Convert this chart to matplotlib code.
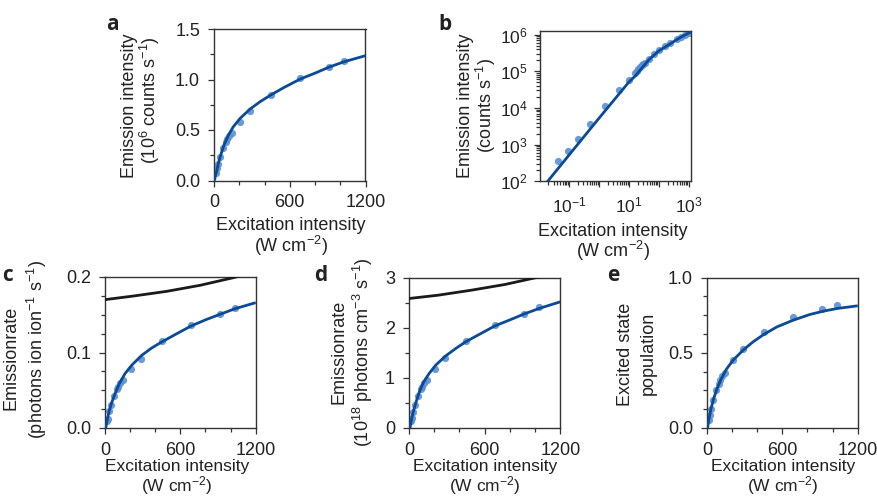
import matplotlib
matplotlib.use("Agg")
import matplotlib.pyplot as plt
from matplotlib.ticker import MultipleLocator, FormatStrFormatter, LogLocator, LogFormatterSciNotation, NullFormatter
import numpy as np

plt.rcParams['font.family'] = ['Liberation Sans', 'DejaVu Sans']
plt.rcParams['mathtext.fontset'] = 'custom'
plt.rcParams['mathtext.rm'] = 'Liberation Sans'
plt.rcParams['mathtext.it'] = 'Liberation Sans:italic'
plt.rcParams['mathtext.bf'] = 'Liberation Sans:bold'

# ---------------- data ----------------
# shared excitation intensities of the linear panels (W cm^-2)
x_pts = [13, 21, 33, 48, 74, 92, 104, 121, 140, 207, 286, 450, 684, 913, 1033]
a_pts = [0.07, 0.119, 0.168, 0.231, 0.317, 0.383, 0.406, 0.44, 0.466, 0.578, 0.684, 0.849, 1.018, 1.127, 1.183]
c_pts = [0.009, 0.0124, 0.022, 0.0309, 0.0424, 0.0512, 0.0543, 0.0596, 0.0631, 0.0777, 0.0918, 0.1148, 0.1369, 0.1514, 0.1594]
d_pts = [0.14, 0.2, 0.319, 0.466, 0.632, 0.772, 0.818, 0.898, 0.951, 1.178, 1.39, 1.73, 2.063, 2.282, 2.402]
e_pts = [0.05, 0.089, 0.129, 0.184, 0.251, 0.295, 0.317, 0.346, 0.368, 0.45, 0.528, 0.639, 0.738, 0.794, 0.816]

a_fit_x = [4, 12, 21, 34, 53, 79, 114, 153, 206, 285, 365, 449, 550, 682, 814, 912, 1031, 1200]
a_fit_y = [0, 0.055, 0.09, 0.168, 0.251, 0.35, 0.449, 0.532, 0.614, 0.707, 0.78, 0.846, 0.918, 1.004, 1.07, 1.123, 1.176, 1.236]

c_fit_x = [6, 19, 35, 53, 80, 114, 159, 212, 292, 372, 451, 557, 685, 810, 916, 1035, 1200]
c_fit_y = [0, 0.0124, 0.0234, 0.0336, 0.0455, 0.0587, 0.072, 0.083, 0.0962, 0.106, 0.1139, 0.1236, 0.1351, 0.1439, 0.1506, 0.158, 0.166]
c_black_x = [0, 226, 491, 757, 1022, 1100]
c_black_y = [0.170, 0.1748, 0.181, 0.189, 0.1991, 0.2025]

d_fit_x = [8, 21, 37, 56, 82, 116, 159, 211, 291, 370, 449, 555, 682, 814, 909, 1031, 1200]
d_fit_y = [0, 0.186, 0.353, 0.519, 0.719, 0.918, 1.084, 1.251, 1.437, 1.584, 1.717, 1.863, 2.036, 2.169, 2.269, 2.382, 2.515]
d_black_x = [0, 233, 497, 761, 1012, 1100]
d_black_y = [2.581, 2.648, 2.748, 2.861, 3.0, 3.05]

e_fit_x = [5, 16, 32, 53, 80, 114, 154, 207, 287, 366, 451, 557, 685, 818, 924, 1035, 1200]
e_fit_y = [0, 0.062, 0.129, 0.195, 0.262, 0.328, 0.39, 0.45, 0.517, 0.572, 0.621, 0.672, 0.716, 0.754, 0.776, 0.794, 0.812]

b_x = [0.041, 0.088, 0.19, 0.50, 1.58, 4.6, 10, 15.5, 18, 20.6, 23, 26.5, 30, 34, 46, 68, 105, 166, 245, 410, 558, 776, 1000]
b_y = [351, 657, 1450, 3720, 11200, 31400, 59000, 89000, 1.03e5, 1.17e5, 1.3e5, 1.45e5, 1.57e5, 1.7e5,
       2.18e5, 2.93e5, 3.7e5, 4.8e5, 5.9e5, 7.5e5, 8.5e5, 9.9e5, 1.1e6]
b_fit_x = [0.019, 0.1, 1, 10, 16.5, 46, 100, 215, 480, 1170]
b_fit_y = [100, 528, 5280, 51000, 75000, 2.04e5, 3.6e5, 5.25e5, 8.0e5, 1.18e6]

# ---------------- style ----------------
W, H = 877, 499
LINE = '#0b4a94'
PT = '#5a8fd5'
TXT = '#222222'
FS_T = 13
FS_L = 13

fig = plt.figure(figsize=(W / 100, H / 100), dpi=100)


def ax_px(l, t, r, b):
    return fig.add_axes([l / W, 1 - b / H, (r - l) / W, (b - t) / H])


def style(ax, fs=FS_T):
    for s in ax.spines.values():
        s.set_linewidth(1.0)
        s.set_color('#333333')
    ax.tick_params(which='both', direction='out', top=False, right=False, colors='#333333',
                   labelcolor=TXT, labelsize=fs, width=0.9, pad=5.5)
    ax.tick_params(which='major', length=4.5)
    ax.tick_params(which='minor', length=3.0)


def lin_x(ax):
    ax.set_xlim(0, 1200)
    ax.xaxis.set_major_locator(MultipleLocator(600))
    ax.xaxis.set_minor_locator(MultipleLocator(200))


def ftext(x, y, s, **kw):
    fig.text(x / W, 1 - y / H, s, color=TXT, **kw)


def draw_lin(ax, fx, fy, py):
    ax.plot(x_pts, py, 'o', ms=5.2, color=PT, alpha=0.9, mec='none', zorder=2)
    ax.plot(fx, fy, '-', color=LINE, lw=2.0, zorder=3, solid_capstyle='butt')


# panel a
axa = ax_px(214, 29, 365.5, 180.5)
style(axa)
lin_x(axa)
axa.set_ylim(0, 1.5)
axa.yaxis.set_major_locator(MultipleLocator(0.5))
axa.yaxis.set_minor_locator(MultipleLocator(0.25))
axa.yaxis.set_major_formatter(FormatStrFormatter('%.1f'))
draw_lin(axa, a_fit_x, a_fit_y, a_pts)

# panel b
axb = ax_px(540, 31, 690.7, 181.3)
style(axb, fs=12.5)
axb.tick_params(axis='y', pad=4.5)
axb.set_xscale('log')
axb.set_yscale('log')
axb.set_xlim(0.0105, 1170)
axb.set_ylim(1e2, 1.25e6)
axb.xaxis.set_major_locator(LogLocator(base=10, numticks=20))
axb.xaxis.set_minor_locator(LogLocator(base=10, subs=np.arange(2, 10), numticks=20))
axb.xaxis.set_minor_formatter(NullFormatter())
axb.yaxis.set_major_locator(LogLocator(base=10, numticks=20))
axb.yaxis.set_minor_locator(LogLocator(base=10, subs=np.arange(2, 10), numticks=20))
axb.yaxis.set_minor_formatter(NullFormatter())
fmt = LogFormatterSciNotation()
axb.xaxis.set_major_formatter(plt.FuncFormatter(
    lambda v, p: fmt(v) if round(np.log10(v)) in (-1, 1, 3) else ''))
axb.plot(b_x, b_y, 'o', ms=5.2, color=PT, alpha=0.9, mec='none', zorder=2)
axb.plot(b_fit_x, b_fit_y, '-', color=LINE, lw=2.0, zorder=3)

# panel c
axc = ax_px(105, 277, 255.7, 428)
style(axc)
lin_x(axc)
axc.set_ylim(0, 0.2)
axc.yaxis.set_major_locator(MultipleLocator(0.1))
axc.yaxis.set_minor_locator(MultipleLocator(0.025))
axc.yaxis.set_major_formatter(FormatStrFormatter('%.1f'))
draw_lin(axc, c_fit_x, c_fit_y, c_pts)
axc.plot(c_black_x, c_black_y, '-', color='#1a1a1a', lw=2.0, zorder=3)

# panel d
axd = ax_px(409, 277.5, 560.3, 428)
style(axd)
lin_x(axd)
axd.set_ylim(0, 3)
axd.yaxis.set_major_locator(MultipleLocator(1))
axd.yaxis.set_minor_locator(MultipleLocator(0.5))
axd.yaxis.set_major_formatter(FormatStrFormatter('%d'))
draw_lin(axd, d_fit_x, d_fit_y, d_pts)
axd.plot(d_black_x, d_black_y, '-', color='#1a1a1a', lw=2.0, zorder=3)

# panel e
axe = ax_px(707, 277.5, 857.7, 428)
style(axe)
lin_x(axe)
axe.set_ylim(0, 1.0)
axe.yaxis.set_major_locator(MultipleLocator(0.5))
axe.yaxis.set_minor_locator(MultipleLocator(0.125))
axe.yaxis.set_major_formatter(FormatStrFormatter('%.1f'))
draw_lin(axe, e_fit_x, e_fit_y, e_pts)

# ---------------- labels ----------------
kw = dict(ha='center', va='center', fontsize=FS_L)
kwb = dict(ha='center', va='center', fontsize=12.5)
unit = '(W cm$^{\u22122}$)'
for x, y1, y2 in [(290.5, 225, 246), (613, 231, 251)]:
    ftext(x, y1, 'Excitation intensity', **kw)
    ftext(x, y2, unit, **kw)
for x in (177, 485, 783):
    ftext(x, 466.5, 'Excitation intensity', **kwb)
    ftext(x, 486, unit, **kwb)

ylabels = [
    (129.5, 106, 'Emission intensity', 150, 100, '(10$^{6}$ counts s$^{\u22121}$)'),
    (466, 106, 'Emission intensity', 486, 106, '(counts s$^{\u22121}$)'),
    (11, 358, 'Emissionrate', 37, 349, '(photons ion ion$^{\u22121}$ s$^{\u22121}$)'),
    (339, 352, 'Emissionrate', 363, 352, '(10$^{18}$ photons cm$^{\u22123}$ s$^{\u22121}$)'),
    (626, 354, 'Excited state', 648, 353, 'population'),
]
for x1, y1, s1, x2, y2, s2 in ylabels:
    ftext(x1, y1, s1, rotation=90, **kw)
    ftext(x2, y2, s2, rotation=90, **kw)

pk = dict(fontsize=15, fontweight='bold', family=['Open Sans', 'DejaVu Sans'], ha='left', va='baseline')
ftext(106, 30, 'a', **pk)
ftext(438, 30, 'b', **pk)
ftext(2, 281, 'c', **pk)
ftext(314, 281, 'd', **pk)
ftext(607, 281, 'e', **pk)

fig.savefig('out.png', dpi=100)
